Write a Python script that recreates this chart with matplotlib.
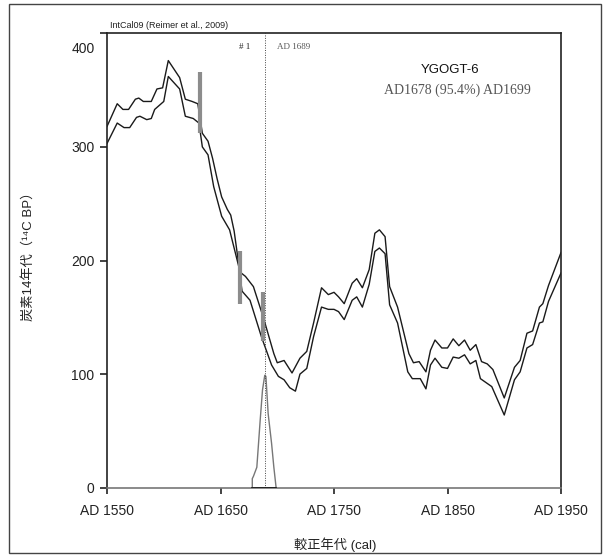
import matplotlib.pyplot as plt
from matplotlib.patches import Rectangle
from matplotlib.transforms import ScaledTranslation

# IntCal09 1-sigma envelope (upper / lower)
upper_years = [1550, 1559, 1564, 1569, 1575, 1578, 1582, 1589, 1594, 1599, 1604,
               1614, 1619, 1625, 1630, 1634, 1639, 1643, 1647, 1651, 1656, 1659,
               1662, 1667, 1672, 1679, 1688, 1697, 1700, 1706, 1713, 1720, 1726,
               1732, 1739, 1745, 1750, 1754, 1759, 1766, 1770, 1775, 1781, 1786,
               1790, 1795, 1799, 1806, 1816, 1820, 1825, 1831, 1835, 1839, 1845,
               1850, 1855, 1860, 1865, 1870, 1875, 1880, 1885, 1890, 1900, 1909,
               1914, 1920, 1925, 1931, 1934, 1939, 1950]
upper_bp = [318, 338, 333, 333, 342, 343, 340, 340, 351, 352, 376,
            361, 342, 340, 338, 312, 305, 290, 272, 256, 245, 240,
            226, 190, 186, 177, 149, 118, 110, 112, 101, 114, 120,
            145, 176, 170, 172, 168, 162, 180, 184, 176, 192, 224,
            227, 221, 177, 159, 118, 110, 111, 102, 121, 130, 123,
            123, 131, 125, 130, 121, 126, 111, 109, 104, 79, 106,
            112, 136, 138, 159, 162, 178, 207]

lower_years = [1550, 1559, 1565, 1570, 1576, 1579, 1585, 1589, 1592, 1600, 1604,
               1614, 1619, 1626, 1631, 1634, 1639, 1644, 1651, 1658, 1666, 1669,
               1676, 1686, 1695, 1701, 1706, 1711, 1716, 1720, 1726, 1732, 1739,
               1745, 1750, 1754, 1759, 1766, 1770, 1775, 1781, 1786, 1790, 1795,
               1799, 1806, 1815, 1819, 1826, 1831, 1835, 1839, 1845, 1850, 1855,
               1860, 1865, 1870, 1875, 1879, 1889, 1900, 1909, 1914, 1920, 1925,
               1931, 1934, 1939, 1950]
lower_bp = [303, 321, 317, 317, 326, 327, 324, 325, 333, 340, 362,
            351, 327, 325, 321, 300, 293, 265, 239, 227, 195, 173,
            165, 133, 108, 98, 95, 88, 85, 100, 105, 133, 159,
            157, 157, 155, 148, 165, 168, 159, 179, 208, 211, 206,
            161, 145, 102, 96, 96, 87, 108, 114, 106, 105, 115,
            114, 117, 109, 112, 96, 89, 64, 95, 102, 123, 126,
            145, 146, 164, 189]

# measured 14C ages (1 sigma) at wiggle-matched ring positions
bar_years = [1632, 1667, 1687]
bar_low = [312, 162, 129]
bar_high = [366, 208, 172]

# calibrated probability distribution of the outermost ring
prob_years = [1678, 1678, 1679, 1682, 1685, 1687, 1689, 1690, 1692, 1695, 1697, 1699]
prob_vals = [0, 8, 10, 18, 60, 86, 99, 98, 65, 39, 18, 0]

match_year = 1689
xticks = [1550, 1650, 1750, 1850, 1950]
yticks = [0, 100, 200, 300, 400]

plt.rcParams['font.family'] = ['Liberation Sans', 'Noto Sans CJK JP', 'DejaVu Sans']

fig = plt.figure(figsize=(6.08, 5.57), dpi=100)
ax = fig.add_axes([0.176, 0.1244, 0.7467, 0.8158])

ax.plot(upper_years, upper_bp, color='#1a1a1a', lw=1.0)
ax.plot(lower_years, lower_bp, color='#1a1a1a', lw=1.0)

for yr, lo, hi in zip(bar_years, bar_low, bar_high):
    ax.plot([yr, yr], [lo, hi], color='#8c8c8c', lw=3.0, solid_capstyle='butt', zorder=3)

ax.plot(prob_years, prob_vals, color='#777777', lw=1.0)
ax.plot([prob_years[0], prob_years[-1]], [0, 0], color='#111111', lw=1.2, zorder=4)

ax.axvline(match_year, color='#444444', lw=0.7, ls=(0, (1, 1.5)))

ax.set_xlim(1550, 1950)
ax.set_ylim(0, 400)
ax.set_xticks(xticks)
ax.set_xticklabels([f"AD {x}" for x in xticks])
ax.set_yticks(yticks)
ax.tick_params(axis='x', direction='out', length=4, width=1.2, pad=8,
               labelsize=10, colors='#222222')
ax.tick_params(axis='y', direction='out', length=5, width=1.2, pad=4,
               labelsize=10, colors='#222222')
for s in ax.spines.values():
    s.set_linewidth(1.2)
    s.set_color('#222222')
ax.spines['bottom'].set_color('#777777')

# the "400" label sits a bit below its tick in the original
lab = ax.get_yticklabels()[-1]
lab.set_transform(lab.get_transform() + ScaledTranslation(0, -0.14, fig.dpi_scale_trans))

fig.text(335 / 608, 1 - 545 / 557, "較正年代 (cal)", fontsize=9.5,
         ha='center', va='center', color='#222222')
fig.text(0.046, 0.545, "炭素14年代（¹⁴C BP）", rotation=90, fontsize=9.5,
         ha='center', va='center', color='#222222')

fig.text(110 / 608, 1 - 25 / 557, "IntCal09 (Reimer et al., 2009)", fontsize=6.5,
         ha='left', va='center', color='#222222')
fig.text(250 / 608, 1 - 47 / 557, "# 1", fontsize=6.5, ha='right', va='center',
         family='Liberation Serif', color='#222222')
fig.text(277 / 608, 1 - 47 / 557, "AD 1689", fontsize=6.5, ha='left', va='center',
         family='Liberation Serif', color='#555555')
fig.text(450 / 608, 1 - 70 / 557, "YGOGT-6", fontsize=9.5, ha='center', va='center',
         color='#111111')
fig.text(457 / 608, 1 - 90 / 557, "AD1678 (95.4%) AD1699", fontsize=10,
         ha='center', va='center', family='Liberation Serif', color='#555555')

# outer frame
fig.patches.append(Rectangle((9 / 608, 1 - 553 / 557), 592 / 608, 549 / 557,
                             transform=fig.transFigure, fill=False,
                             edgecolor='#444444', lw=1.0))

fig.savefig("out.png", dpi=100)
